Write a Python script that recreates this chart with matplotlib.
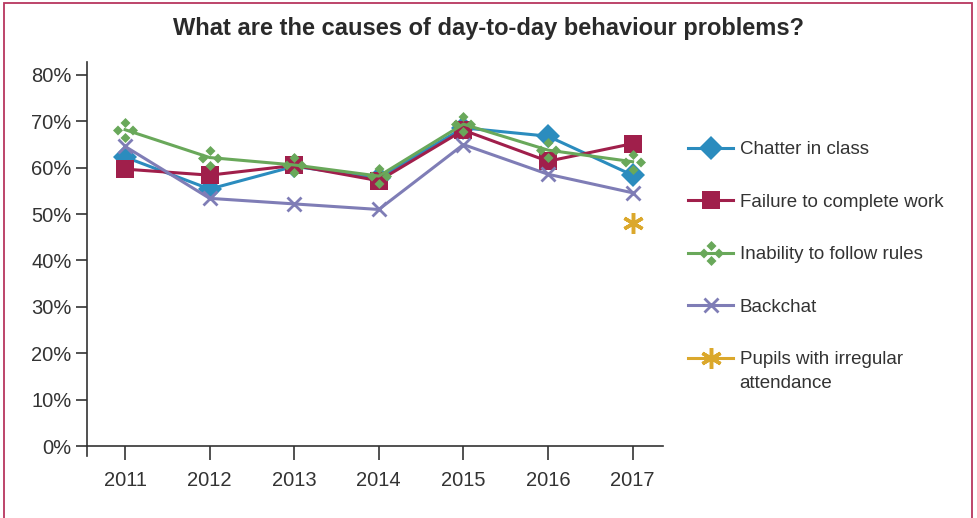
import matplotlib
matplotlib.use("Agg")
import matplotlib.pyplot as plt
from matplotlib.path import Path
from matplotlib.patches import Rectangle
import numpy as np

plt.rcParams['font.family'] = ['Liberation Sans', 'DejaVu Sans']

years = ["2011", "2012", "2013", "2014", "2015", "2016", "2017"]
chatter = [62.3, 55.4, 60.3, 57.8, 68.6, 66.8, 58.4]
failure = [59.7, 58.4, 60.5, 57.2, 68.1, 61.4, 65.2]
inability = [68.2, 62.2, 60.6, 58.2, 69.4, 63.8, 61.3]
backchat = [64.6, 53.4, 52.2, 51.0, 65.0, 58.6, 54.6]
irregular = [None, None, None, None, None, None, 48.0]

labels = ["Chatter in class", "Failure to complete work",
          "Inability to follow rules", "Backchat",
          "Pupils with irregular\nattendance"]
colors = ["#2b8cbe", "#a01f4b", "#69a85a", "#7f7db6", "#dba82c"]
text_color = "#333333"


def cluster_marker():
    """Four small diamonds arranged in a cross."""
    verts, codes = [], []
    r, s = 0.6, 0.4
    for cx, cy in [(0, r), (r, 0), (0, -r), (-r, 0)]:
        verts += [(cx, cy + s), (cx + s, cy), (cx, cy - s), (cx - s, cy), (cx, cy + s)]
        codes += [Path.MOVETO, Path.LINETO, Path.LINETO, Path.LINETO, Path.CLOSEPOLY]
    return Path(verts, codes)


fig = plt.figure(figsize=(9.77, 5.18), dpi=100)
ax = fig.add_axes([87 / 977, 1 - 446 / 518, (663 - 87) / 977, (446 - 62) / 518])

x = np.arange(len(years))
series = [chatter, failure, inability, backchat, irregular]
styles = [
    dict(marker="D", markersize=12, mew=0),
    dict(marker="s", markersize=12.5, mew=0),
    dict(marker=cluster_marker(), markersize=18, mew=0),
    dict(marker="x", markersize=10, mew=2),
    dict(marker=(6, 2, 0), markersize=15, mew=2.5),
]
for vals, lab, col, st in zip(series, labels, colors, styles):
    y = np.array([np.nan if v is None else v / 100 for v in vals], dtype=float)
    ax.plot(x, y, color=col, lw=2.2, label=lab, markerfacecolor=col,
            markeredgecolor=col, **st)

ax.set_xlim(-0.45, 6.36)
ax.set_ylim(0, 0.828)
ax.set_yticks(np.arange(0, 0.81, 0.1))
ax.set_yticklabels([f"{int(round(v * 100))}%" for v in np.arange(0, 0.81, 0.1)])
ax.set_xticks(x)
ax.set_xticklabels(years)

for side in ["top", "right"]:
    ax.spines[side].set_visible(False)
for side in ["left", "bottom"]:
    ax.spines[side].set_color(text_color)
    ax.spines[side].set_linewidth(1.2)
ax.tick_params(axis="y", length=8, width=1.2, color=text_color,
               labelcolor=text_color, labelsize=14.5, pad=3)
ax.tick_params(axis="x", length=10, width=1.2, color=text_color,
               labelcolor=text_color, labelsize=14.5, pad=8)
# left axis line continues a little below the baseline
ax.plot([0, 0], [0, -0.027], transform=ax.transAxes, color=text_color,
        lw=1.2, clip_on=False)

leg = fig.legend(loc="upper left", bbox_to_anchor=(688 / 977, 1 - 141 / 518),
                 frameon=False, fontsize=13.5, handlelength=2.4,
                 handletextpad=0.35, labelspacing=1.89, borderpad=0,
                 borderaxespad=0, labelcolor=text_color)
leg.get_texts()[-1].set_linespacing(1.55)
# put the handle of the two-line entry level with its first line
items = [it for col in leg._legend_handle_box.get_children()
         for it in col.get_children()]
items[-1].align = "top"

fig.text(0.5, 1 - 29 / 518, "What are the causes of day-to-day behaviour problems?",
         ha="center", va="center", fontsize=17, fontweight="bold",
         color="#2a2a2a")

fig.patches.append(Rectangle((4 / 977, -0.05), (972 - 4) / 977, 1.05 - 3 / 518,
                             transform=fig.transFigure, fill=False,
                             edgecolor="#b8365f", lw=1.3))

fig.savefig("out.png", dpi=100)
